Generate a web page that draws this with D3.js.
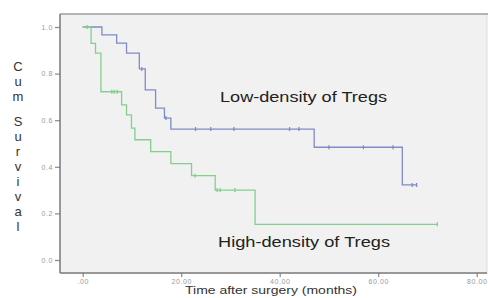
<!DOCTYPE html>
<html>
<head>
    <title>Kaplan-Meier</title>
    <script src="https://d3js.org/d3.v7.min.js"></script>
    <style>
        body { margin: 0; background-color: white; }
        svg { display: block; font-family: "Liberation Sans", Arial, sans-serif; }
    </style>
</head>
<body>
    <script>
        // survival steps
        const lowTimes = [3.9, 6.9, 8.9, 11.5, 12.7, 14.8, 16.6, 17.9, 47.0, 64.9];
        const lowSurv = [0.966, 0.931, 0.888, 0.82, 0.73, 0.652, 0.609, 0.562, 0.484, 0.322];
        const lowCensor = [12.0, 16.9, 22.9, 26.0, 30.7, 42.0, 43.9, 50.0, 57.0, 63.0, 66.9, 67.8];

        const highTimes = [1.7, 2.6, 3.7, 7.9, 8.9, 9.9, 10.6, 13.8, 17.9, 22.1, 26.9, 35.0];
        const highSurv = [0.93, 0.888, 0.722, 0.666, 0.623, 0.566, 0.516, 0.465, 0.414, 0.362, 0.30, 0.153];
        const highCensor = [0.9, 5.9, 6.4, 7.0, 22.8, 27.3, 27.9, 30.9, 72.0];

        const xTicks = [0, 20, 40, 60, 80];
        const yTicks = [0, 0.2, 0.4, 0.6, 0.8, 1.0];

        const width = 488, height = 298;
        const frame = {left: 60, top: 14, right: 487, bottom: 273};

        const svg = d3.select("body").append("svg")
            .attr("width", width)
            .attr("height", height);

        const x = d3.scaleLinear().domain([0, 80]).range([82.7, 476.7]);
        const y = d3.scaleLinear().domain([0, 1]).range([260, 27]);

        // plot background
        svg.append("rect")
            .attr("x", frame.left).attr("y", frame.top)
            .attr("width", frame.right - frame.left)
            .attr("height", frame.bottom - frame.top)
            .style("fill", "#f1f1f1")
            .style("stroke", "#dcdcdc")
            .style("stroke-width", 1);

        svg.append("line")
            .attr("x1", frame.left).attr("x2", width)
            .attr("y1", frame.top).attr("y2", frame.top)
            .style("stroke", "#b4b4b4").style("stroke-width", 2);

        // axes
        const yAxis = svg.append("g")
            .attr("transform", "translate(" + frame.left + ",0)")
            .call(d3.axisLeft(y).tickValues(yTicks).tickFormat(d3.format(".1f")).tickSize(5).tickPadding(2));
        const xAxis = svg.append("g")
            .attr("transform", "translate(0," + frame.bottom + ")")
            .call(d3.axisBottom(x).tickValues(xTicks)
                .tickFormat(d => d === 0 ? ".00" : d.toFixed(2)).tickSize(4).tickPadding(2));

        [yAxis, xAxis].forEach(a => {
            a.select(".domain").remove();
            a.selectAll(".tick line").style("stroke", "#888").style("stroke-width", 1.2);
            a.selectAll(".tick text")
                .style("fill", "#9a9a9a")
                .style("font-size", "7px")
                .style("letter-spacing", "0.6px");
        });

        svg.append("line")
            .attr("x1", frame.left).attr("x2", frame.left)
            .attr("y1", frame.top).attr("y2", frame.bottom)
            .style("stroke", "#7c7c7c").style("stroke-width", 1.5);
        svg.append("line")
            .attr("x1", frame.left).attr("x2", frame.right)
            .attr("y1", frame.bottom).attr("y2", frame.bottom)
            .style("stroke", "#7c7c7c").style("stroke-width", 1.5);

        // curves
        function stepAt(times, surv, t) {
            let s = 1;
            times.forEach((tt, i) => { if (tt <= t) s = surv[i]; });
            return s;
        }

        function drawCurve(times, surv, censor, color) {
            const endT = Math.max(d3.max(times), d3.max(censor));
            const pts = [[0, 1]].concat(times.map((t, i) => [t, surv[i]]));
            pts.push([endT, stepAt(times, surv, endT)]);

            svg.append("path")
                .datum(pts)
                .attr("d", d3.line().x(d => x(d[0])).y(d => y(d[1])).curve(d3.curveStepAfter))
                .style("fill", "none")
                .style("stroke", color)
                .style("stroke-width", 1.3);

            svg.selectAll(null)
                .data(censor)
                .enter()
                .append("line")
                .attr("x1", d => x(d)).attr("x2", d => x(d))
                .attr("y1", d => y(stepAt(times, surv, d)) - 2)
                .attr("y2", d => y(stepAt(times, surv, d)) + 2)
                .style("stroke", color)
                .style("stroke-width", 1.3);
        }

        drawCurve(lowTimes, lowSurv, lowCensor, "#7f8cc6");
        drawCurve(highTimes, highSurv, highCensor, "#84cf8e");

        // group labels (the source image is stretched sideways)
        svg.append("text")
            .attr("x", 220).attr("y", 102)
            .attr("textLength", 167).attr("lengthAdjust", "spacingAndGlyphs")
            .style("font-size", "15px")
            .style("fill", "#222")
            .text("Low-density of Tregs");
        svg.append("text")
            .attr("x", 218).attr("y", 247)
            .attr("textLength", 172).attr("lengthAdjust", "spacingAndGlyphs")
            .style("font-size", "15px")
            .style("fill", "#222")
            .text("High-density of Tregs");

        // axis titles
        svg.append("text")
            .attr("x", 185).attr("y", 294)
            .attr("textLength", 172).attr("lengthAdjust", "spacingAndGlyphs")
            .style("font-size", "11.5px")
            .style("fill", "#333")
            .text("Time after surgery (months)");

        const yTitle = "Cum Survival".split("");
        let ly = 71;
        yTitle.forEach(ch => {
            if (ch === " ") { ly += 10; return; }
            svg.append("text")
                .attr("x", 18).attr("y", ly)
                .style("text-anchor", "middle")
                .style("font-size", "13px")
                .style("fill", "#333")
                .text(ch);
            ly += 15;
        });
    </script>
</body>
</html>
